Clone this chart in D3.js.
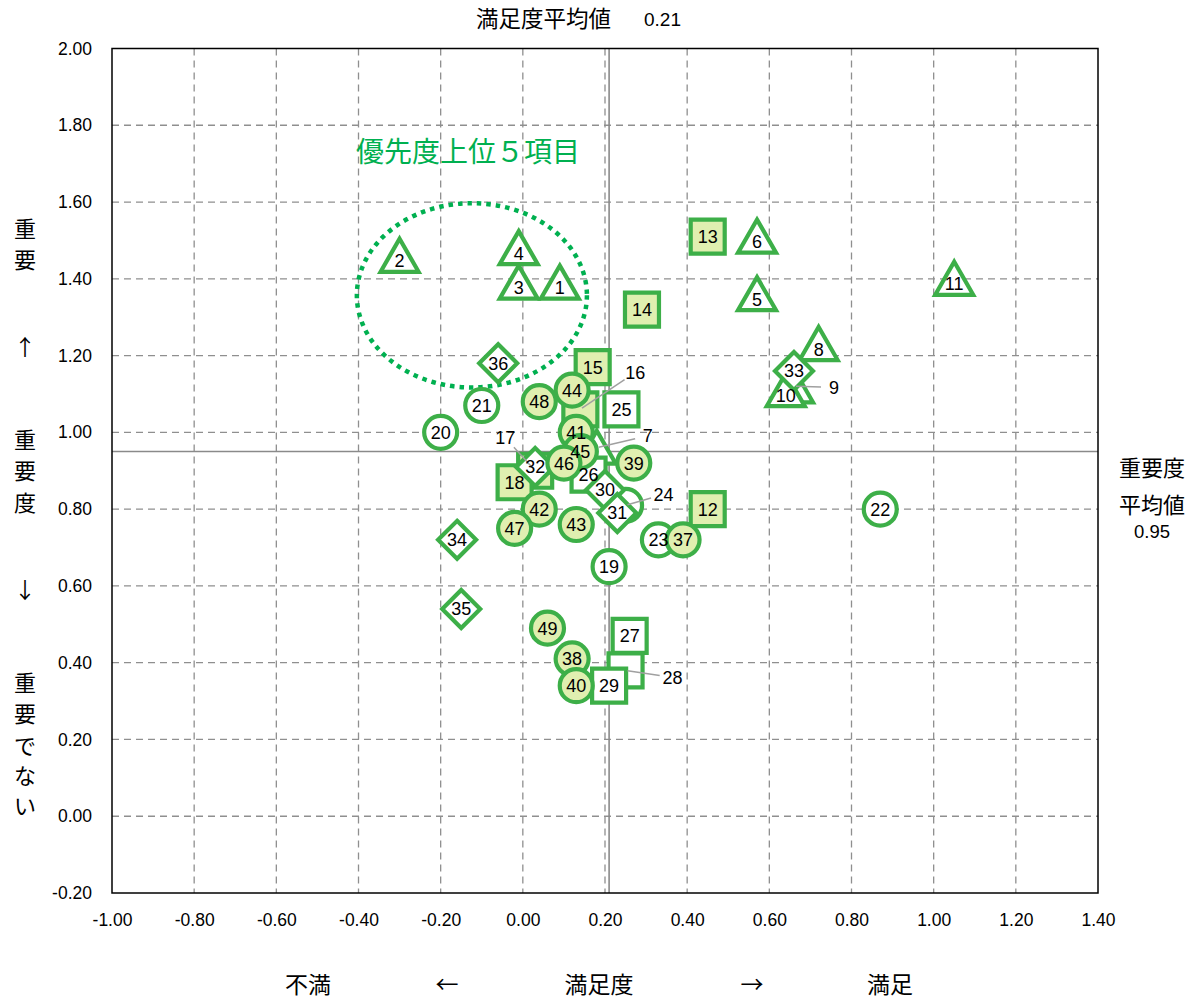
<!DOCTYPE html>
<html><head><meta charset="utf-8">
<script src="https://cdn.jsdelivr.net/npm/d3@7"></script>
<style>
body{margin:0;background:#fff;}
svg{display:block;}
</style></head>
<body>
<svg id="c" width="1197" height="1001"></svg>
<script>
// ---- data ----
const ids        = [1,2,3,4,5,6,7,8,9,10,11, 12,13,14,15,16,17,18, 19,20,21,22,23,24, 25,26,27,28,29, 30,31,32,33,34,35,36, 37,38,39,40,41,42,43,44,45,46,47,48,49];
const satisfaction = [0.09,-0.30,-0.01,-0.01,0.57,0.57,0.18,0.72,0.66,0.64,1.05, 0.45,0.45,0.29,0.17,0.14,0.03,-0.02, 0.21,-0.20,-0.10,0.87,0.33,0.25, 0.24,0.16,0.26,0.25,0.21, 0.20,0.23,0.03,0.66,-0.16,-0.15,-0.06, 0.39,0.12,0.27,0.13,0.13,0.04,0.13,0.12,0.14,0.10,-0.02,0.04,0.06];
const importance   = [1.39,1.46,1.39,1.48,1.36,1.51,0.96,1.23,1.12,1.11,1.40, 0.80,1.51,1.32,1.17,1.06,0.90,0.87, 0.65,1.00,1.07,0.80,0.72,0.81, 1.06,0.89,0.47,0.38,0.34, 0.85,0.79,0.91,1.16,0.72,0.54,1.18, 0.72,0.41,0.92,0.34,1.00,0.80,0.76,1.11,0.95,0.92,0.75,1.08,0.49];
const shapes = ["tri","tri","tri","tri","tri","tri","tri","tri","tri","tri","tri",
  "sqF","sqF","sqF","sqF","sqF","sqF","sqF",
  "cir","cir","cir","cir","cir","cir",
  "sq","sq","sq","sq","sq",
  "dia","dia","dia","dia","dia","dia","dia",
  "cirF","cirF","cirF","cirF","cirF","cirF","cirF","cirF","cirF","cirF","cirF","cirF","cirF"];
const xTicks = [-1.00,-0.80,-0.60,-0.40,-0.20,0.00,0.20,0.40,0.60,0.80,1.00,1.20,1.40];
const yTicks = [-0.20,0.00,0.20,0.40,0.60,0.80,1.00,1.20,1.40,1.60,1.80,2.00];
const meanSatisfaction = 0.21;
const meanImportance = 0.95;
// labels moved away from their marker (with leader line), pixel offsets
const leaderIds = [7,9,16,17,24,28];
const leaderDx  = [51,40,55,-30,38,47];
const leaderDy  = [-12,1,-37,-33,-11,7];
// highlighted group ellipse (data units)
const ellipseCenter = [-0.124, 1.357];
const ellipseRadii = [0.28, 0.24];

// ---- layout ----
const L=112, R=1098, T=48.5, B=893;
const GREEN="#3DAF48", FILL="#E0EFB0", TXTGREEN="#00B050";
const NUMFONT="'Liberation Sans', Arial, sans-serif";
const JPFONT="'Noto Sans CJK JP', sans-serif";
const fmt = d => d3.format(".2f")(d).replace("−","-");

const svg=d3.select("#c");
const x=d3.scaleLinear().domain([-1,1.4]).range([L,R]);
const y=d3.scaleLinear().domain([-0.2,2.0]).range([B,T]);

// grid
svg.append("g").selectAll("line").data(xTicks.slice(1,-1)).join("line")
  .attr("x1",d=>x(d)).attr("x2",d=>x(d)).attr("y1",T).attr("y2",B)
  .attr("stroke","#8f8f8f").attr("stroke-width",1.3).attr("stroke-dasharray","7,5");
svg.append("g").selectAll("line").data(yTicks.slice(1,-1)).join("line")
  .attr("y1",d=>y(d)).attr("y2",d=>y(d)).attr("x1",L).attr("x2",R)
  .attr("stroke","#8f8f8f").attr("stroke-width",1.3).attr("stroke-dasharray","7,5");

// mean lines
svg.append("line").attr("x1",x(meanSatisfaction)).attr("x2",x(meanSatisfaction)).attr("y1",T).attr("y2",B)
  .attr("stroke","#8a8a8a").attr("stroke-width",1.6);
svg.append("line").attr("y1",y(meanImportance)).attr("y2",y(meanImportance)).attr("x1",L).attr("x2",R)
  .attr("stroke","#8a8a8a").attr("stroke-width",1.6);

// frame
svg.append("rect").attr("x",L).attr("y",T).attr("width",R-L).attr("height",B-T)
  .attr("fill","none").attr("stroke","#000").attr("stroke-width",1.5);

// axes
const ax=svg.append("g").attr("transform",`translate(0,${B+27})`)
  .call(d3.axisBottom(x).tickValues(xTicks).tickFormat(fmt).tickSize(0).tickPadding(0));
ax.select(".domain").remove();
ax.selectAll("text").attr("font-family",NUMFONT).attr("font-size",17.5).attr("fill","#000").attr("dy","0.35em").attr("y",0);
const ay=svg.append("g").attr("transform",`translate(${L-20},0)`)
  .call(d3.axisLeft(y).tickValues(yTicks).tickFormat(fmt).tickSize(0).tickPadding(0));
ay.select(".domain").remove();
ay.selectAll("text").attr("font-family",NUMFONT).attr("font-size",17.5).attr("fill","#000");

// ellipse
svg.append("ellipse").attr("cx",x(ellipseCenter[0])).attr("cy",y(ellipseCenter[1]))
  .attr("rx",x(ellipseRadii[0])-x(0)).attr("ry",y(0)-y(ellipseRadii[1]))
  .attr("fill","none").attr("stroke",TXTGREEN).attr("stroke-width",4.5).attr("stroke-dasharray","4.5,5");

// points
const pts=ids.map((id,i)=>({id,sx:satisfaction[i],im:importance[i],shape:shapes[i]}));
const g=svg.append("g");
function shapePath(s){
  if(s==="tri") return "M0,-17L19,16L-19,16Z";
  if(s==="sq"||s==="sqF") return "M-17,-17H17V17H-17Z";
  if(s==="dia") return "M0,-19L19,0L0,19L-19,0Z";
  return null;
}
pts.forEach(p=>{
  const px=x(p.sx), py=y(p.im);
  const fill=(p.shape==="sqF"||p.shape==="cirF")?FILL:"#fff";
  if(p.shape==="cir"||p.shape==="cirF"){
    g.append("circle").attr("cx",px).attr("cy",py).attr("r",16.5)
      .attr("fill",fill).attr("stroke",GREEN).attr("stroke-width",4.2);
  } else {
    g.append("path").attr("d",shapePath(p.shape)).attr("transform",`translate(${px},${py})`)
      .attr("fill",fill).attr("stroke",GREEN).attr("stroke-width",4.2).attr("stroke-linejoin","miter");
  }
});

// leader lines + labels
const lg=svg.append("g");
pts.forEach(p=>{
  const px=x(p.sx), py=y(p.im);
  const k=leaderIds.indexOf(p.id);
  let lx=px, ly=py+(p.shape==="tri"?5:0);
  if(k>=0){
    lx=px+leaderDx[k]; ly=py+leaderDy[k];
    const dx=lx-px, dy=ly-py, len=Math.hypot(dx,dy);
    const ux=dx/len, uy=dy/len;
    const endGap = Math.abs(ux)>0.6 ? 13 : 15;
    lg.append("line").attr("x1",px+ux*2).attr("y1",py+uy*2)
      .attr("x2",lx-ux*endGap).attr("y2",ly-uy*endGap)
      .attr("stroke","#a0a0a0").attr("stroke-width",1.5);
  }
  lg.append("text").attr("x",lx).attr("y",ly).attr("dy","0.36em").attr("text-anchor","middle")
    .attr("font-family",NUMFONT).attr("font-size",18).attr("fill","#000").text(p.id);
});

// texts
function txt(t,xx,yy,size,opts={}){
  return svg.append("text").attr("x",xx).attr("y",yy).attr("dy","0.36em")
    .attr("text-anchor",opts.anchor||"middle").attr("font-family",opts.font||JPFONT)
    .attr("font-size",size).attr("fill",opts.fill||"#000").text(t);
}
txt("満足度平均値",476,19,22.5,{anchor:"start"});
txt("0.21",644,19,19,{anchor:"start",font:NUMFONT});
txt("優先度上位５項目",468,152,28,{fill:TXTGREEN});
txt("重要度",1152,468,22);
txt("平均値",1152,505,22);
txt("0.95",1152,531,18.5,{font:NUMFONT});
[["重",229],["要",260],["↑",347],["重",440],["要",471],["度",503],["↓",590],["重",683],["要",714],["で",746],["な",776],["い",806]]
  .forEach(([c,yy])=>txt(c,25,yy,22));
txt("不満",308,985,23);
txt("←",447,985,23);
txt("満足度",599,985,23);
txt("→",752,985,23);
txt("満足",890,985,23);
</script>
</body></html>
